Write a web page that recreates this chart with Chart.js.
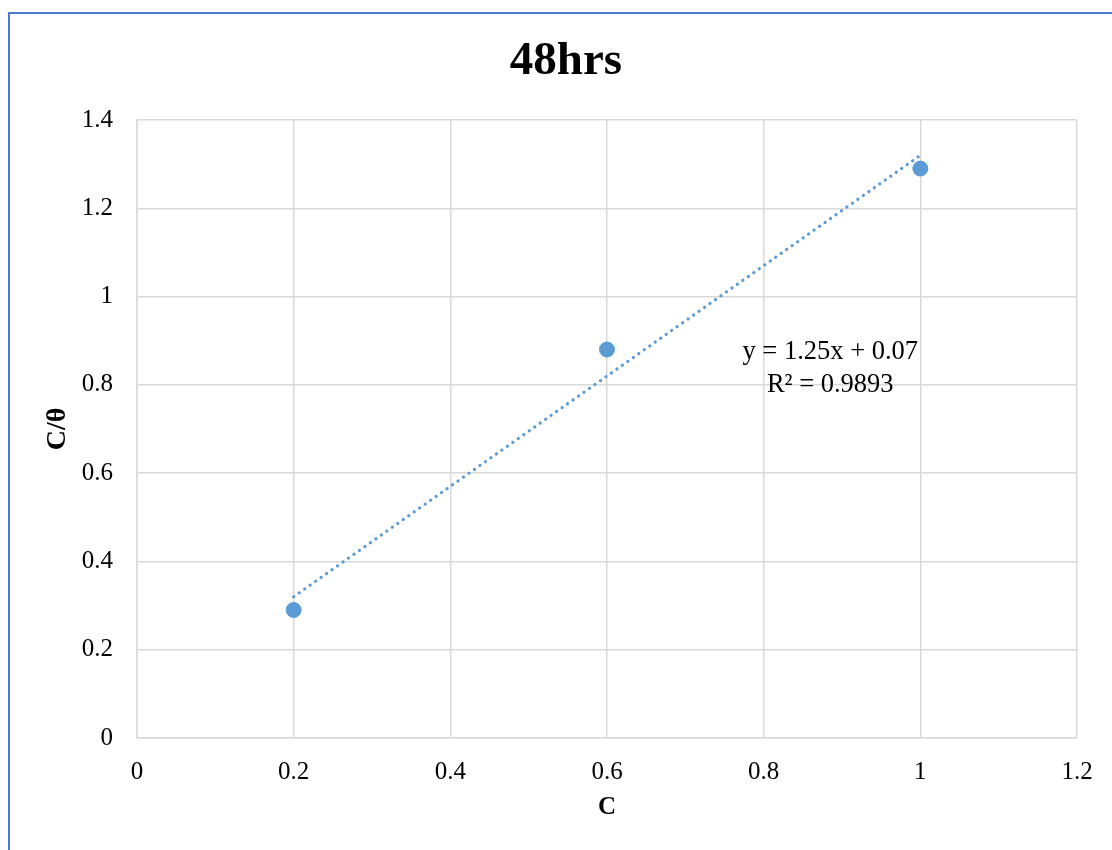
<!DOCTYPE html>
<html>
<head>
<meta charset="utf-8">
<title>48hrs</title>
<script src="https://cdn.jsdelivr.net/npm/chart.js@4.4.1/dist/chart.umd.min.js"></script>
<style>
    body { margin: 0; background: #fff; overflow: hidden; }
    #wrap { position: relative; width: 1112px; height: 850px; }
    #frame {
        position: absolute; left: 8px; top: 12px; width: 1200px; height: 1000px;
        border-left: 2px solid #4a7bd0; border-top: 2px solid #4a7bd0;
        pointer-events: none;
    }
    canvas { position: absolute; left: 0; top: 0; }
</style>
</head>
<body>
<div id="wrap">
    <canvas id="chart" width="1112" height="850"></canvas>
    <div id="frame"></div>
</div>
<script>
// chart data
const chartTitle = '48hrs';
const xTitle = 'C';
const yTitle = 'C/θ';
const cValues = [0.2, 0.6, 1.0];
const ratioValues = [0.29, 0.88, 1.29];

// linear trendline ends (Excel-style dotted line)
const trendX = [0.2, 1.0];
const trendY = [0.32, 1.32];
const trendText = ['y = 1.25x + 0.07', 'R² = 0.9893'];
const trendTextX = 0.885;
const trendTextY = [0.875, 0.8];

const xTicks = [0, 0.2, 0.4, 0.6, 0.8, 1, 1.2];
const xTickLabels = ['0', '0.2', '0.4', '0.6', '0.8', '1', '1.2'];
const yTicks = [0, 0.2, 0.4, 0.6, 0.8, 1, 1.2, 1.4];
const yTickLabels = ['0', '0.2', '0.4', '0.6', '0.8', '1', '1.2', '1.4'];

const blue = '#5b9bd5';
const gridColor = '#d9d9d9';
const serif = "'Liberation Serif', 'Times New Roman', serif";

// writes the equation and R² next to the trendline
const trendLabel = {
    id: 'trendLabel',
    afterDatasetsDraw(chart) {
        const ctx = chart.ctx;
        const x = chart.scales.x.getPixelForValue(trendTextX);
        ctx.save();
        ctx.font = '26.5px ' + serif;
        ctx.fillStyle = '#000';
        ctx.textAlign = 'center';
        ctx.textBaseline = 'middle';
        trendText.forEach((t, i) => {
            ctx.fillText(t, x, chart.scales.y.getPixelForValue(trendTextY[i]));
        });
        ctx.restore();
    }
};

new Chart(document.getElementById('chart'), {
    type: 'scatter',
    data: {
        datasets: [
            {
                label: 'C/θ',
                data: cValues.map((c, i) => ({ x: c, y: ratioValues[i] })),
                backgroundColor: blue,
                borderColor: blue,
                pointRadius: 7.5,
                pointHoverRadius: 7.5,
                order: 1
            },
            {
                label: 'Linear',
                type: 'line',
                data: trendX.map((c, i) => ({ x: c, y: trendY[i] })),
                borderColor: blue,
                borderWidth: 3.2,
                borderDash: [0.1, 6.6],
                borderCapStyle: 'round',
                pointRadius: 0,
                fill: false,
                order: 2
            }
        ]
    },
    options: {
        responsive: false,
        animation: false,
        layout: { padding: { left: 20, right: 0, top: 0, bottom: 0 } },
        plugins: {
            legend: { display: false },
            tooltip: { enabled: false },
            title: {
                display: true,
                text: chartTitle,
                color: '#000',
                font: { family: serif, size: 47, weight: 'bold' },
                padding: { top: 34, bottom: 29.6 }
            }
        },
        scales: {
            x: {
                type: 'linear',
                min: 0,
                max: 1.2,
                afterBuildTicks: s => { s.ticks = xTicks.map(v => ({ value: v })); },
                afterFit: s => { s.height = 112; },
                ticks: {
                    color: '#000',
                    font: { family: serif, size: 25 },
                    padding: 19,
                    maxRotation: 0,
                    callback: (v, i) => xTickLabels[i]
                },
                grid: { color: gridColor, lineWidth: 1.5, drawTicks: false },
                border: { color: gridColor, width: 1.5 },
                title: {
                    display: true,
                    text: xTitle,
                    color: '#000',
                    font: { family: serif, size: 25, weight: 'bold' },
                    padding: { top: 0, bottom: 27 }
                }
            },
            y: {
                type: 'linear',
                min: 0,
                max: 1.4,
                afterBuildTicks: s => { s.ticks = yTicks.map(v => ({ value: v })); },
                afterFit: s => { s.width = 117; },
                ticks: {
                    color: '#000',
                    font: { family: serif, size: 25 },
                    padding: 24,
                    callback: (v, i) => yTickLabels[i]
                },
                grid: { color: gridColor, lineWidth: 1.5, drawTicks: false },
                border: { color: gridColor, width: 1.5 },
                title: {
                    display: true,
                    text: yTitle,
                    color: '#000',
                    font: { family: serif, size: 28, weight: 'bold' },
                    padding: { top: 21, bottom: 0 }
                }
            },
            // empty right axis, only keeps the plot 35px from the right edge
            y2: {
                type: 'linear',
                position: 'right',
                display: true,
                grid: { display: false, drawTicks: false },
                border: { display: false },
                ticks: { display: false },
                afterFit: s => { s.width = 35; }
            }
        }
    },
    plugins: [trendLabel]
});
</script>
</body>
</html>
